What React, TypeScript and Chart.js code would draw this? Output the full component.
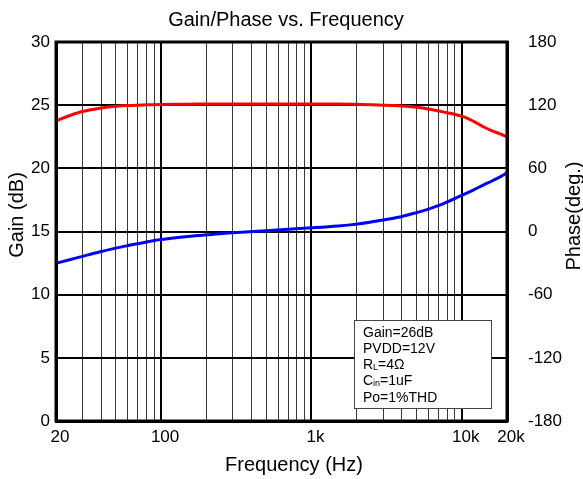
import { useEffect, useRef } from 'react';
import { Chart, registerables } from 'chart.js';

Chart.register(...registerables);

const FONT = '"Liberation Sans", Arial, Helvetica, sans-serif';

// ---- data ----
const frequencies = [20, 25, 30, 40, 50, 60, 80, 100, 150, 200, 300, 500, 700, 1000, 1500, 2000, 3000, 4000, 5000, 6000, 7500, 10000, 12000, 14000, 16000, 18000, 20000];
const gainDb = [23.75, 24.2, 24.5, 24.78, 24.92, 24.98, 25.03, 25.06, 25.08, 25.1, 25.1, 25.1, 25.1, 25.1, 25.1, 25.08, 25.0, 24.93, 24.83, 24.7, 24.47, 24.13, 23.72, 23.27, 22.96, 22.72, 22.48];
const phaseDeg = [-30.2, -26.6, -23.6, -19.0, -15.8, -13.4, -9.9, -7.6, -4.8, -3.2, -1.2, 0.8, 2.1, 3.5, 5.3, 7.0, 10.9, 14.3, 17.9, 21.3, 26.2, 34.3, 39.6, 44.3, 48.2, 51.9, 55.8];

const xTickValues = [20, 30, 40, 50, 60, 70, 80, 90, 100, 200, 300, 400, 500, 600, 700, 800, 900, 1000, 2000, 3000, 4000, 5000, 6000, 7000, 8000, 9000, 10000, 20000];
const xTickLabels: Record<number, string> = { 20: '20', 100: '100', 1000: '1k', 10000: '10k', 20000: '20k' };
const majorFreqs = [100, 1000, 10000];

const gainRange = [0, 30];
const gainStep = 5;
const phaseRange = [-180, 180];
const phaseStep = 60;

const chartTitle = 'Gain/Phase vs. Frequency';
const xTitle = 'Frequency (Hz)';
const yTitle = 'Gain (dB)';
const y2Title = 'Phase(deg.)';

// note box lines: [text, isSubscript]
const noteLines: [string, boolean][][] = [
  [['Gain=26dB', false]],
  [['PVDD=12V', false]],
  [['R', false], ['L', true], ['=4Ω', false]],
  [['C', false], ['in', true], ['=1uF', false]],
  [['Po=1%THD', false]],
];

const decorPlugin = {
  id: 'decor',
  afterDatasetsDraw(chart: any) {
    const { ctx, chartArea } = chart;
    const { left, right, top, bottom } = chartArea;
    ctx.save();
    // frame
    ctx.strokeStyle = '#000';
    ctx.lineWidth = 3;
    ctx.strokeRect(left, top, right - left, bottom - top);

    // notes box
    const bx = 354.5, by = 320.5, bw = 137, bh = 88;
    ctx.fillStyle = '#fff';
    ctx.fillRect(bx, by, bw, bh);
    ctx.lineWidth = 1;
    ctx.strokeStyle = '#444';
    ctx.strokeRect(bx, by, bw, bh);
    ctx.fillStyle = '#000';
    ctx.textBaseline = 'alphabetic';
    ctx.textAlign = 'left';
    noteLines.forEach((segs, i) => {
      let x = 363;
      const y = 336.5 + i * 16.3;
      segs.forEach(([t, sub]) => {
        ctx.font = sub ? `9px ${FONT}` : `14px ${FONT}`;
        ctx.fillText(t, x, sub ? y + 1 : y);
        x += ctx.measureText(t).width;
      });
    });

    // titles
    ctx.fillStyle = '#000';
    ctx.font = `20px ${FONT}`;
    ctx.textAlign = 'center';
    ctx.textBaseline = 'middle';
    ctx.fillText(chartTitle, 286, 20);
    ctx.fillText(xTitle, 294, 465);

    ctx.save();
    ctx.translate(17, 215);
    ctx.rotate(-Math.PI / 2);
    ctx.fillText(yTitle, 0, 0);
    ctx.restore();

    ctx.save();
    ctx.translate(574, 216);
    ctx.rotate(-Math.PI / 2);
    ctx.fillText(y2Title, 0, 0);
    ctx.restore();

    ctx.restore();
  },
};

export default function App() {
  const ref = useRef<HTMLCanvasElement | null>(null);

  useEffect(() => {
    if (!ref.current) return;
    const chart = new Chart(ref.current, {
      type: 'line',
      data: {
        datasets: [
          {
            label: 'Gain',
            data: frequencies.map((f, i) => ({ x: f, y: gainDb[i] })),
            borderColor: '#ff0000',
            borderWidth: 3,
            pointRadius: 0,
            tension: 0.35,
            yAxisID: 'y',
          },
          {
            label: 'Phase',
            data: frequencies.map((f, i) => ({ x: f, y: phaseDeg[i] })),
            borderColor: '#0000ff',
            borderWidth: 3,
            pointRadius: 0,
            tension: 0.35,
            yAxisID: 'y2',
          },
        ],
      },
      options: {
        animation: false,
        responsive: false,
        maintainAspectRatio: false,
        layout: { padding: { top: 42, left: 0, right: 0, bottom: 0 } },
        plugins: {
          legend: { display: false },
          title: { display: false },
          tooltip: { enabled: false },
        },
        scales: {
          x: {
            type: 'logarithmic',
            min: 20,
            max: 20000,
            afterBuildTicks: (scale: any) => {
              scale.ticks = xTickValues.map((v) => ({ value: v }));
            },
            afterFit: (scale: any) => {
              scale.height = 58;
            },
            ticks: {
              autoSkip: false,
              maxRotation: 0,
              minRotation: 0,
              padding: 6,
              labelOffset: 4,
              color: '#000',
              font: { family: FONT, size: 17 },
              callback: (value: any) => xTickLabels[Number(value)] ?? '',
            },
            grid: {
              drawTicks: false,
              color: (c: any) => (c.tick && majorFreqs.includes(c.tick.value) ? '#000' : '#3a3a3a'),
              lineWidth: (c: any) => (c.tick && majorFreqs.includes(c.tick.value) ? 2 : 1),
            },
            border: { display: true, color: '#000', width: 3 },
          },
          y: {
            position: 'left',
            min: gainRange[0],
            max: gainRange[1],
            afterFit: (scale: any) => {
              scale.width = 56;
            },
            ticks: {
              stepSize: gainStep,
              padding: 6,
              color: '#000',
              font: { family: FONT, size: 17 },
            },
            grid: { drawTicks: false, color: '#000', lineWidth: 2 },
            border: { display: true, color: '#000', width: 3 },
          },
          y2: {
            position: 'right',
            min: phaseRange[0],
            max: phaseRange[1],
            afterFit: (scale: any) => {
              scale.width = 76;
            },
            ticks: {
              stepSize: phaseStep,
              padding: 21,
              color: '#000',
              font: { family: FONT, size: 17 },
            },
            grid: { drawOnChartArea: false, drawTicks: false },
            border: { display: true, color: '#000', width: 3 },
          },
        },
      } as any,
      plugins: [decorPlugin],
    });
    return () => chart.destroy();
  }, []);

  return (
    <div style={{ position: 'fixed', left: 0, top: 0, width: 583, height: 479, background: '#fff' }}>
      <canvas ref={ref} width={583} height={479} style={{ display: 'block', width: 583, height: 479 }} />
    </div>
  );
}
